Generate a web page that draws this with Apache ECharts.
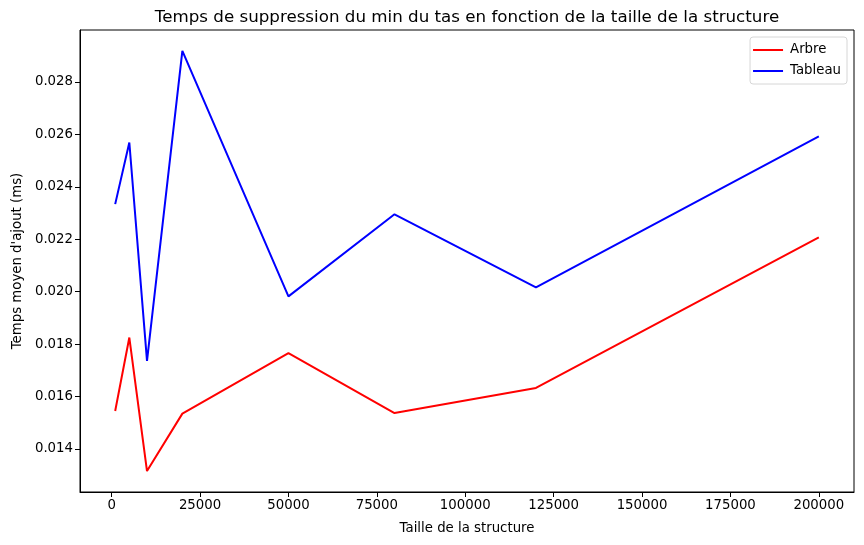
<!DOCTYPE html>
<html>
<head>
<meta charset="utf-8">
<script src="https://cdn.jsdelivr.net/npm/echarts@6/dist/echarts.min.js"></script>
<style>
  html, body { margin: 0; padding: 0; background: #fff; }
  #mainCanvas { width: 864px; height: 545px; }
</style>
</head>
<body>
<div id="mainCanvas"></div>
<script>
var myChart = echarts.init(document.getElementById("mainCanvas"));

// tailles testées
var tailles = [1000, 5000, 10000, 20000, 50000, 80000, 120000, 200000];
// temps moyens (ms)
var arbre = [0.01545, 0.01825, 0.01316, 0.01535, 0.01766, 0.01537, 0.01633, 0.02207];
var tableau = [0.02334, 0.02569, 0.01736, 0.02918, 0.01982, 0.02295, 0.02016, 0.02592];
// graduations
var xTicks = [0, 25000, 50000, 75000, 100000, 125000, 150000, 175000, 200000];
var yTicks = [0.014, 0.016, 0.018, 0.020, 0.022, 0.024, 0.026, 0.028];

function paires(xs, ys) {
    var out = [];
    for (var i = 0; i < xs.length; i++) {
        out.push([xs[i], ys[i]]);
    }
    return out;
}

var police = 'DejaVu Sans';

var option = {
    animation: false,
    textStyle: { fontFamily: police },
    title: {
        text: 'Temps de suppression du min du tas en fonction de la taille de la structure',
        left: 462,
        textAlign: 'center',
        top: 4,
        textStyle: { fontFamily: police, fontSize: 16.7, fontWeight: 'normal', color: '#000' }
    },
    legend: {
        orient: 'vertical',
        right: 17,
        top: 37,
        padding: [6, 6, 6, 3],
        itemWidth: 30,
        itemHeight: 2,
        itemGap: 7,
        icon: 'rect',
        borderColor: '#d6d6d6',
        borderWidth: 1,
        borderRadius: 3,
        backgroundColor: '#fff',
        textStyle: { fontFamily: police, fontSize: 13.3, color: '#000', lineHeight: 14, padding: [0, 0, 0, 2] },
        data: ['Arbre', 'Tableau']
    },
    grid: {
        left: 80,
        right: 10,
        top: 30,
        bottom: 53,
        show: true,
        borderColor: '#000',
        borderWidth: 1
    },
    xAxis: {
        type: 'value',
        min: -8950,
        max: 209950,
        name: 'Taille de la structure',
        nameLocation: 'middle',
        nameGap: 30,
        nameTextStyle: { fontFamily: police, fontSize: 13.3, color: '#000' },
        axisLine: { show: true, onZero: false, lineStyle: { color: '#000', width: 1 } },
        axisTick: { show: true, inside: false, length: 5, lineStyle: { color: '#000' }, customValues: xTicks },
        axisLabel: {
            fontFamily: police, fontSize: 13.3, color: '#000', margin: 7,
            customValues: xTicks,
            formatter: function (v) { return String(v); }
        },
        splitLine: { show: false }
    },
    yAxis: {
        type: 'value',
        min: 0.01236,
        max: 0.02998,
        name: "Temps moyen d'ajout (ms)",
        nameLocation: 'middle',
        nameGap: 56,
        nameTextStyle: { fontFamily: police, fontSize: 13.3, color: '#000' },
        axisLine: { show: true, onZero: false, lineStyle: { color: '#000', width: 1 } },
        axisTick: { show: true, inside: false, length: 5, lineStyle: { color: '#000' }, customValues: yTicks },
        axisLabel: {
            fontFamily: police, fontSize: 13.3, color: '#000', margin: 7,
            customValues: yTicks,
            formatter: function (v) { return v.toFixed(3); }
        },
        splitLine: { show: false }
    },
    series: [
        {
            name: 'Arbre',
            type: 'line',
            data: paires(tailles, arbre),
            symbol: 'none',
            color: '#ff0000',
            lineStyle: { color: '#ff0000', width: 2 }
        },
        {
            name: 'Tableau',
            type: 'line',
            data: paires(tailles, tableau),
            symbol: 'none',
            color: '#0000ff',
            lineStyle: { color: '#0000ff', width: 2 }
        }
    ]
};

myChart.setOption(option);
</script>
</body>
</html>
